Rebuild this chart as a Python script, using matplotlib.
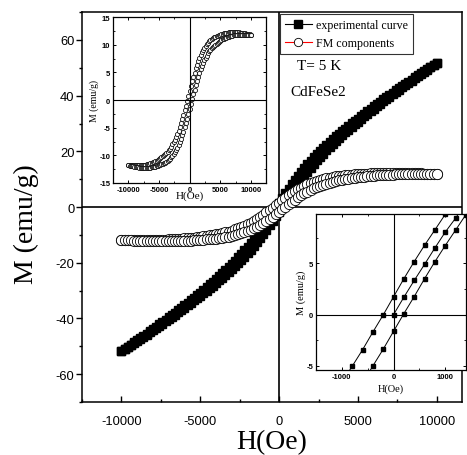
import numpy as np
import matplotlib
matplotlib.use("Agg")
import matplotlib.pyplot as plt
from matplotlib.ticker import MultipleLocator

# ---------------- data ----------------
# field grid of the measured loop (Oe), 200 Oe steps
H = np.arange(-10000, 10001, 200)

# FM component, descending-field branch (values for H = -10000 ... 10000)
fm_upper = [-11.8, -11.8, -11.8, -11.8, -11.81, -11.82, -11.82, -11.82, -11.81, -11.8,
            -11.78, -11.75, -11.74, -11.72, -11.68, -11.63, -11.58, -11.52, -11.45, -11.37,
            -11.28, -11.18, -11.08, -10.96, -10.84, -10.7, -10.56, -10.37, -10.18, -9.99,
            -9.8, -9.56, -9.32, -9.08, -8.79, -8.45, -8.03, -7.63, -7.18, -6.74,
            -6.18, -5.55, -4.88, -4.18, -3.49, -2.7, -1.85, -1.02, -0.2, 0.7,
            1.6,
            2.5, 3.4, 4.18, 4.95, 5.7, 6.41, 7.02, 7.62, 8.15, 8.62,
            9.06, 9.42, 9.77, 10.07, 10.35, 10.61, 10.82, 10.98, 11.14, 11.3,
            11.41, 11.52, 11.63, 11.74, 11.8, 11.86, 11.94, 12.02, 12.06, 12.12,
            12.17, 12.21, 12.24, 12.26, 12.27, 12.28, 12.28, 12.26, 12.25, 12.22,
            12.2, 12.17, 12.14, 12.1, 12.06, 12.01, 11.96, 11.92, 11.86, 11.8]

# FM component, ascending-field branch
fm_lower = [-11.8, -11.86, -11.92, -11.96, -12.01, -12.06, -12.1, -12.14, -12.17, -12.2,
            -12.22, -12.25, -12.26, -12.28, -12.28, -12.27, -12.26, -12.24, -12.21, -12.17,
            -12.12, -12.06, -12.02, -11.94, -11.86, -11.8, -11.74, -11.63, -11.52, -11.41,
            -11.3, -11.14, -10.98, -10.82, -10.61, -10.35, -10.07, -9.77, -9.42, -9.06,
            -8.62, -8.15, -7.62, -7.02, -6.41, -5.7, -4.95, -4.18, -3.4, -2.5,
            -1.6,
            -0.7, 0.2, 1.02, 1.85, 2.7, 3.49, 4.18, 4.88, 5.55, 6.18,
            6.74, 7.18, 7.63, 8.03, 8.45, 8.79, 9.08, 9.32, 9.56, 9.8,
            9.99, 10.18, 10.37, 10.56, 10.7, 10.84, 10.96, 11.08, 11.18, 11.28,
            11.37, 11.45, 11.52, 11.58, 11.63, 11.68, 11.72, 11.74, 11.75, 11.78,
            11.8, 11.81, 11.82, 11.82, 11.82, 11.81, 11.8, 11.8, 11.8, 11.8]

# experimental curve, descending-field branch
exp_upper = [-51.8, -51.0, -50.2, -49.4, -48.61, -47.82, -47.02, -46.22, -45.41, -44.6,
             -43.78, -42.95, -42.14, -41.32, -40.48, -39.63, -38.78, -37.92, -37.05, -36.17,
             -35.28, -34.38, -33.48, -32.56, -31.64, -30.7, -29.76, -28.77, -27.78, -26.79,
             -25.8, -24.76, -23.72, -22.68, -21.59, -20.45, -19.23, -18.03, -16.78, -15.54,
             -14.18, -12.75, -11.28, -9.78, -8.29, -6.7, -5.05, -3.42, -1.8, -0.1,
             1.6,
             3.3, 5.0, 6.58, 8.15, 9.7, 11.21, 12.62, 14.02, 15.35, 16.62,
             17.86, 19.02, 20.17, 21.27, 22.35, 23.41, 24.42, 25.38, 26.34, 27.3,
             28.21, 29.12, 30.03, 30.94, 31.8, 32.66, 33.54, 34.42, 35.26, 36.12,
             36.97, 37.81, 38.64, 39.46, 40.27, 41.08, 41.88, 42.66, 43.45, 44.22,
             45.0, 45.77, 46.54, 47.3, 48.06, 48.81, 49.56, 50.32, 51.06, 51.8]

# experimental curve, ascending-field branch
exp_lower = [-51.8, -51.06, -50.32, -49.56, -48.81, -48.06, -47.3, -46.54, -45.77, -45.0,
             -44.22, -43.45, -42.66, -41.88, -41.08, -40.27, -39.46, -38.64, -37.81, -36.97,
             -36.12, -35.26, -34.42, -33.54, -32.66, -31.8, -30.94, -30.03, -29.12, -28.21,
             -27.3, -26.34, -25.38, -24.42, -23.41, -22.35, -21.27, -20.17, -19.02, -17.86,
             -16.62, -15.35, -14.02, -12.62, -11.21, -9.7, -8.15, -6.58, -5.0, -3.3,
             -1.6,
             0.1, 1.8, 3.42, 5.05, 6.7, 8.29, 9.78, 11.28, 12.75, 14.18,
             15.54, 16.78, 18.03, 19.23, 20.45, 21.59, 22.68, 23.72, 24.76, 25.8,
             26.79, 27.78, 28.77, 29.76, 30.7, 31.64, 32.56, 33.48, 34.38, 35.28,
             36.17, 37.05, 37.92, 38.78, 39.63, 40.48, 41.32, 42.14, 42.95, 43.78,
             44.6, 45.41, 46.22, 47.02, 47.82, 48.61, 49.4, 50.2, 51.0, 51.8]

# low-field detail of the experimental loop (inset, lower right)
zoom_H_desc = [-1000, -800, -600, -400, -200, 0, 200, 400, 600, 800, 1000, 1200]
zoom_M_desc = [-6.6, -5.03, -3.43, -1.70, -0.03, 1.74, 3.5, 5.17, 6.76, 8.26, 9.77, 11.3]
zoom_H_init = [0, 200, 400, 600, 800, 1000, 1200, 1400]
zoom_M_init = [0.0, 1.70, 3.33, 4.90, 6.50, 8.04, 9.4, 10.9]
zoom_H_asc = [-600, -400, -200, 0, 200, 400, 600, 800, 1000, 1200, 1400]
zoom_M_asc = [-6.7, -5.0, -3.37, -1.63, 0.1, 1.76, 3.5, 5.16, 6.73, 8.24, 9.75]

legend_labels = ["experimental curve", "FM components"]
annot = ["T= 5 K", "CdFeSe2"]

# ---------------- style ----------------
SERIF = ["Liberation Serif", "DejaVu Serif"]
SANS = ["Liberation Sans", "DejaVu Sans"]
plt.rcParams["font.family"] = SANS
plt.rcParams["axes.unicode_minus"] = False

fig = plt.figure(figsize=(4.67, 4.56), dpi=100)
ax = fig.add_axes([0.1756, 0.1162, 0.8137, 0.855])

ax.plot(H, exp_upper, "-", color="black", lw=0.8, marker="s", ms=5.4,
        mfc="black", mec="black", label=legend_labels[0], zorder=3)
ax.plot(H, exp_lower, "-", color="black", lw=0.8, marker="s", ms=5.4,
        mfc="black", mec="black", zorder=3)
ax.plot(H, fm_upper, "-", color="red", lw=0.8, marker="o", ms=7.4,
        mfc="white", mec="black", mew=0.6, label=legend_labels[1], zorder=4)
ax.plot(H, fm_lower, "-", color="red", lw=0.8, marker="o", ms=7.4,
        mfc="white", mec="black", mew=0.6, zorder=4)

ax.axhline(0, color="black", lw=1.2, zorder=2)
ax.axvline(0, color="black", lw=1.2, zorder=2)

ax.set_xlim(-12500, 11600)
ax.set_ylim(-70, 70)
ax.set_xticks([-10000, -5000, 0, 5000, 10000])
ax.set_yticks([-60, -40, -20, 0, 20, 40, 60])
ax.xaxis.set_minor_locator(MultipleLocator(2500))
ax.yaxis.set_minor_locator(MultipleLocator(10))
ax.tick_params(axis="x", which="both", direction="in", labelsize=9.3, pad=9)
ax.tick_params(axis="y", which="both", direction="out", labelsize=9.3, pad=1.5)
ax.tick_params(which="major", length=4, width=1)
ax.tick_params(which="minor", length=2.5, width=1)
for s in ax.spines.values():
    s.set_linewidth(1.1)

ax.set_xlabel("H(Oe)", fontfamily=SERIF, fontsize=20, labelpad=2)
ax.set_ylabel("M (emu/g)", fontfamily=SERIF, fontsize=20)
ax.yaxis.set_label_coords(-0.112, 0.46)

leg = ax.legend(loc="upper left", bbox_to_anchor=(0.521, 0.995), frameon=True,
                prop={"family": SERIF, "size": 8.6}, handlelength=2.3,
                handletextpad=0.3, borderpad=0.4, labelspacing=0.5,
                fancybox=False, edgecolor="black", borderaxespad=0.0)
leg.get_frame().set_linewidth(0.8)
for lh in leg.legend_handles:
    lh.set_markersize(6)

ax.text(0.567, 0.862, annot[0], transform=ax.transAxes, fontfamily=SERIF,
        fontsize=11, va="center", ha="left")
ax.text(0.548, 0.797, annot[1], transform=ax.transAxes, fontfamily=SERIF,
        fontsize=11, va="center", ha="left")

# ---------------- inset 1: FM loop ----------------
a1 = fig.add_axes([0.242, 0.5965, 0.328, 0.364])
a1.plot(H, fm_upper, "o", ms=3.0, mfc="white", mec="black", mew=0.55)
a1.plot(H, fm_lower, "o", ms=3.0, mfc="white", mec="black", mew=0.55)
a1.axhline(0, color="black", lw=0.8)
a1.axvline(0, color="black", lw=0.8)
a1.set_xlim(-12500, 12500)
a1.set_ylim(-15, 15)
a1.set_xticks([-10000, -5000, 0, 5000, 10000])
a1.set_yticks([-15, -10, -5, 0, 5, 10, 15])
a1.xaxis.set_minor_locator(MultipleLocator(2500))
a1.yaxis.set_minor_locator(MultipleLocator(2.5))
a1.tick_params(which="both", direction="in", top=True, right=True,
               labelsize=5.5, pad=2)
a1.tick_params(which="major", length=2.5, width=0.7)
a1.tick_params(which="minor", length=1.5, width=0.6)
for t in a1.get_xticklabels() + a1.get_yticklabels():
    t.set_fontweight("bold")
for s in a1.spines.values():
    s.set_linewidth(0.9)
a1.set_xlabel("H(Oe)", fontfamily=SERIF, fontsize=8, labelpad=-1.5)
a1.set_ylabel("M (emu/g)", fontfamily=SERIF, fontsize=7, labelpad=0)

# ---------------- inset 2: low field experimental loop ----------------
a2 = fig.add_axes([0.6767, 0.1864, 0.321, 0.342])
for hx, my in [(zoom_H_desc, zoom_M_desc), (zoom_H_init, zoom_M_init),
               (zoom_H_asc, zoom_M_asc)]:
    a2.plot(hx, my, "-", color="black", lw=0.7, marker="s", ms=2.3,
            mfc="black", mec="black")
a2.axhline(0, color="black", lw=0.8)
a2.axvline(0, color="black", lw=0.8)
a2.set_xlim(-1500, 1400)
a2.set_ylim(-5.4, 9.8)
a2.set_xticks([-1000, 0, 1000])
a2.set_yticks([-5, 0, 5])
a2.xaxis.set_minor_locator(MultipleLocator(500))
a2.yaxis.set_minor_locator(MultipleLocator(2.5))
a2.tick_params(which="both", direction="in", top=True, right=True,
               labelsize=5.5, pad=2)
a2.tick_params(which="major", length=2.5, width=0.7)
a2.tick_params(which="minor", length=1.5, width=0.6)
for t in a2.get_xticklabels() + a2.get_yticklabels():
    t.set_fontweight("bold")
for s in a2.spines.values():
    s.set_linewidth(0.9)
a2.set_xlabel("H(Oe)", fontfamily=SERIF, fontsize=7.5, labelpad=2.5)
a2.set_ylabel("M (emu/g)", fontfamily=SERIF, fontsize=7.5, labelpad=0)

fig.savefig("out.png", dpi=100)
